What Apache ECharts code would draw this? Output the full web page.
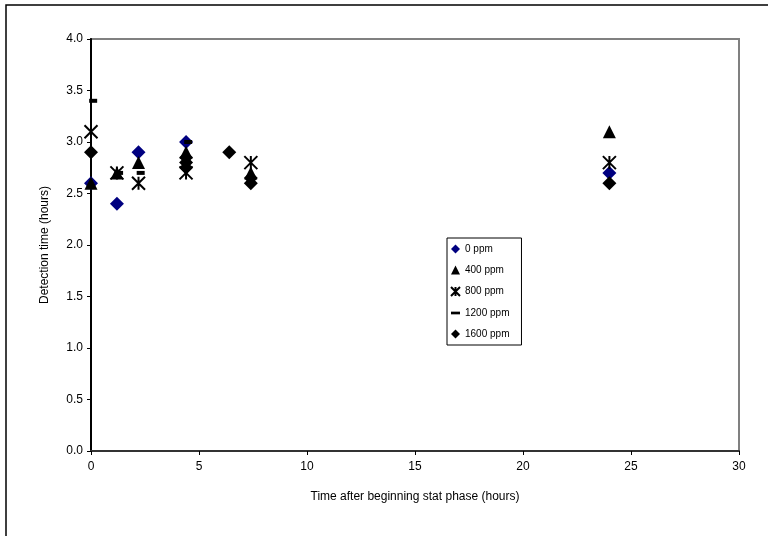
<!DOCTYPE html>
<html>
<head>
<meta charset="utf-8">
<script src="https://cdn.jsdelivr.net/npm/echarts@6/dist/echarts.min.js"></script>
<style>html,body{margin:0;padding:0;background:#fff}#c{width:768px;height:536px}</style>
</head>
<body>
<div id="c"></div>
<script>
var seriesNames = ['0 ppm', '400 ppm', '800 ppm', '1200 ppm', '1600 ppm'];
var x0 = [0, 1.2, 2.2, 4.4, 24];
var y0 = [2.6, 2.4, 2.9, 3.0, 2.7];
var x400 = [0, 1.2, 2.2, 4.4, 7.4, 24];
var y400 = [2.6, 2.7, 2.8, 2.9, 2.7, 3.1];
var x800 = [0, 1.2, 2.2, 4.4, 7.4, 24];
var y800 = [3.1, 2.7, 2.6, 2.7, 2.8, 2.8];
var x1200 = [0.1, 1.3, 2.3, 4.5];
var y1200 = [3.4, 2.7, 2.7, 3.0];
var x1600 = [0, 4.4, 4.4, 4.4, 6.4, 7.4, 7.4, 24];
var y1600 = [2.9, 2.85, 2.8, 2.75, 2.9, 2.6, 2.65, 2.6];
var xTicks = [0, 5, 10, 15, 20, 25, 30];
var yTicks = [0, 0.5, 1, 1.5, 2, 2.5, 3, 3.5, 4];

function pairs(xs, ys) { return xs.map(function (x, i) { return [x, ys[i]]; }); }

var starPath = 'path://M0,0L10,10M10,0L0,10M5,0L5,10';
var dashPath = 'path://M0,0L10,0L10,3L0,3Z';

var chart = echarts.init(document.getElementById('c'), null, {renderer: 'canvas'});
var font = 'Liberation Sans, Arial, sans-serif';
chart.setOption({
  animation: false,
  backgroundColor: '#fff',
  textStyle: {fontFamily: font},
  graphic: [{
    type: 'rect', silent: true, z: -10,
    shape: {x: 6, y: 5, width: 800, height: 600},
    style: {fill: 'none', stroke: '#000', lineWidth: 1.5}
  }],
  grid: {left: 91, right: 29, top: 39, bottom: 85, show: true, borderColor: '#808080', borderWidth: 2, backgroundColor: '#fff'},
  legend: {
    orient: 'vertical', left: 447, top: 238,
    borderColor: '#000', borderWidth: 1, padding: [6, 12, 6, 3],
    itemWidth: 9, itemHeight: 9, itemGap: 11,
    textStyle: {fontSize: 10, color: '#000', fontFamily: font},
    data: [
      {name: seriesNames[0], icon: 'diamond'},
      {name: seriesNames[1], icon: 'triangle'},
      {name: seriesNames[2], icon: starPath},
      {name: seriesNames[3], icon: dashPath},
      {name: seriesNames[4], icon: 'diamond'}
    ]
  },
  xAxis: {
    type: 'value', min: 0, max: 30, interval: 5,
    name: 'Time after beginning stat phase (hours)', nameLocation: 'middle', nameGap: 40,
    nameTextStyle: {fontSize: 12, color: '#000', fontFamily: font},
    axisLine: {show: true, onZero: false, lineStyle: {color: '#333', width: 2}},
    axisTick: {show: true, length: 4, lineStyle: {color: '#000'}},
    axisLabel: {fontSize: 12, color: '#000', margin: 10, fontFamily: font,
      formatter: function (v) { return xTicks.indexOf(v) >= 0 ? String(v) : ''; }},
    splitLine: {show: false}
  },
  yAxis: {
    type: 'value', min: 0, max: 4, interval: 0.5,
    name: 'Detection time (hours)', nameLocation: 'middle', nameGap: 40, nameRotate: 90,
    nameTextStyle: {fontSize: 12, color: '#000', fontFamily: font},
    axisLine: {show: true, onZero: false, lineStyle: {color: '#000', width: 2}},
    axisTick: {show: true, length: 4, lineStyle: {color: '#000'}},
    axisLabel: {fontSize: 12, color: '#000', margin: 8, fontFamily: font,
      formatter: function (v) { return yTicks.indexOf(v) >= 0 ? v.toFixed(1) : ''; }},
    splitLine: {show: false}
  },
  series: [
    {name: seriesNames[0], type: 'scatter', symbol: 'diamond', symbolSize: 14,
      itemStyle: {color: '#000080', opacity: 1}, data: pairs(x0, y0)},
    {name: seriesNames[1], type: 'scatter', symbol: 'triangle', symbolSize: 13,
      itemStyle: {color: '#000', opacity: 1}, data: pairs(x400, y400)},
    {name: seriesNames[2], type: 'scatter', symbol: starPath, symbolSize: 13,
      itemStyle: {color: '#000', borderColor: '#000', borderWidth: 2, opacity: 1}, data: pairs(x800, y800)},
    {name: seriesNames[3], type: 'scatter', symbol: 'rect', symbolSize: [8, 4],
      itemStyle: {color: '#000', opacity: 1}, data: pairs(x1200, y1200)},
    {name: seriesNames[4], type: 'scatter', symbol: 'diamond', symbolSize: 14,
      itemStyle: {color: '#000', opacity: 1}, data: pairs(x1600, y1600)}
  ]
});
</script>
</body>
</html>
